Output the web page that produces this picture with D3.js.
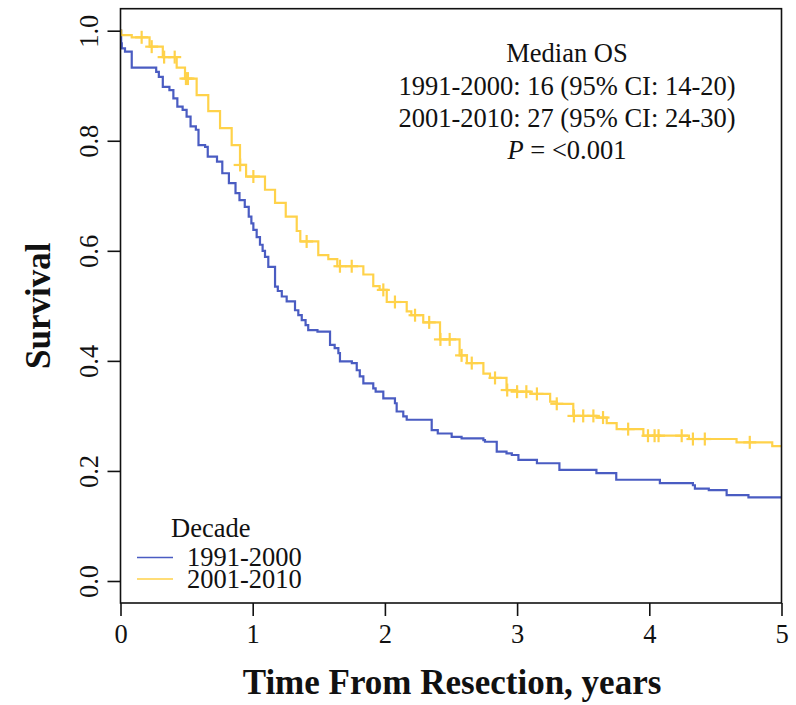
<!DOCTYPE html>
<html>
<head>
<meta charset="utf-8">
<script src="https://cdn.jsdelivr.net/npm/d3@7"></script>
<style>
  html, body { margin: 0; padding: 0; background: #fff; }
  svg { display: block; }
  text { font-family: "Liberation Serif", "Times New Roman", serif; fill: #111; }
</style>
</head>
<body>
<script>
// ---------- data ----------
const seriesNames = ["1991-2000", "2001-2010"];
const seriesColors = ["#4a5cc2", "#ffd24a"];

// 1991-2000: event times (years) and survival after each step
const blueTimes = [0.005, 0.01, 0.034, 0.085, 0.27, 0.29, 0.32, 0.37, 0.40, 0.43, 0.47, 0.50, 0.53, 0.57, 0.59, 0.64, 0.66, 0.73, 0.77, 0.82, 0.87, 0.90, 0.94, 0.97, 0.99, 1.005, 1.03, 1.055, 1.075, 1.093, 1.118, 1.169, 1.19, 1.22, 1.257, 1.32, 1.345, 1.371, 1.40, 1.42, 1.49, 1.585, 1.62, 1.648, 1.66, 1.75, 1.787, 1.81, 1.837, 1.912, 1.93, 1.988, 2.076, 2.089, 2.139, 2.165, 2.354, 2.40, 2.505, 2.58, 2.745, 2.757, 2.846, 2.92, 2.96, 3.01, 3.15, 3.32, 3.60, 3.75, 4.08, 4.33, 4.345, 4.45, 4.585, 4.75];
const blueSurv  = [0.977, 0.968, 0.962, 0.933, 0.925, 0.916, 0.898, 0.892, 0.877, 0.862, 0.856, 0.844, 0.826, 0.820, 0.792, 0.789, 0.771, 0.762, 0.741, 0.723, 0.705, 0.692, 0.680, 0.662, 0.650, 0.638, 0.625, 0.611, 0.600, 0.589, 0.571, 0.535, 0.527, 0.517, 0.508, 0.492, 0.483, 0.474, 0.465, 0.456, 0.453, 0.429, 0.423, 0.414, 0.399, 0.396, 0.383, 0.372, 0.359, 0.350, 0.344, 0.332, 0.323, 0.308, 0.299, 0.293, 0.274, 0.268, 0.262, 0.259, 0.256, 0.253, 0.235, 0.232, 0.229, 0.220, 0.214, 0.202, 0.196, 0.184, 0.178, 0.174, 0.168, 0.165, 0.156, 0.152];

// 2001-2010
const yellowTimes = [0.005, 0.085, 0.22, 0.32, 0.425, 0.488, 0.576, 0.664, 0.753, 0.841, 0.904, 0.95, 1.093, 1.169, 1.25, 1.333, 1.36, 1.496, 1.572, 1.64, 1.837, 1.912, 1.96, 2.014, 2.165, 2.20, 2.29, 2.417, 2.565, 2.62, 2.745, 2.795, 2.92, 3.0, 3.10, 3.25, 3.30, 3.425, 3.60, 3.678, 3.753, 3.955, 4.30, 4.66, 4.93];
const yellowSurv  = [0.992, 0.988, 0.971, 0.952, 0.933, 0.913, 0.883, 0.854, 0.823, 0.792, 0.756, 0.735, 0.711, 0.687, 0.662, 0.636, 0.617, 0.592, 0.585, 0.572, 0.557, 0.536, 0.529, 0.507, 0.490, 0.483, 0.470, 0.439, 0.410, 0.396, 0.377, 0.369, 0.347, 0.344, 0.340, 0.326, 0.322, 0.300, 0.297, 0.287, 0.276, 0.264, 0.258, 0.252, 0.245];
// censoring times (+ marks)
const yellowCensor = [0.16, 0.236, 0.33, 0.41, 0.495, 0.51, 0.905, 1.005, 1.408, 1.66, 1.749, 1.988, 2.076, 2.228, 2.335, 2.42, 2.49, 2.58, 2.657, 2.833, 2.925, 3.0, 3.07, 3.15, 3.3, 3.43, 3.5, 3.577, 3.65, 3.84, 3.99, 4.04, 4.07, 4.245, 4.33, 4.42, 4.76];

const xTicks = [0, 1, 2, 3, 4, 5];
const yTicks = [0.0, 0.2, 0.4, 0.6, 0.8, 1.0];
const annotationLines = ["Median OS", "1991-2000: 16 (95% CI: 14-20)", "2001-2010: 27 (95% CI: 24-30)"];

// ---------- layout ----------
const W = 796, H = 705;
const svg = d3.select("body").append("svg").attr("width", W).attr("height", H);

const x = d3.scaleLinear().domain([0, 5]).range([120.5, 781.5]);
const y = d3.scaleLinear().domain([0, 1]).range([581, 30.7]);
const boxTop = 8.7, boxBottom = 603;

function buildSteps(times, surv) {
  const pts = [[0, 1]];
  times.forEach((t, i) => pts.push([t, surv[i]]));
  pts.push([5, surv[surv.length - 1]]);
  return pts;
}
function survAt(times, surv, t) {
  let s = 1;
  for (let i = 0; i < times.length; i++) { if (times[i] <= t) s = surv[i]; else break; }
  return s;
}

const line = d3.line().x(d => x(d[0])).y(d => y(d[1])).curve(d3.curveStepAfter);

// curves
svg.append("path").datum(buildSteps(blueTimes, blueSurv))
  .attr("d", line).attr("fill", "none").attr("stroke", seriesColors[0]).attr("stroke-width", 2.2);
svg.append("path").datum(buildSteps(yellowTimes, yellowSurv))
  .attr("d", line).attr("fill", "none").attr("stroke", seriesColors[1]).attr("stroke-width", 2.2);

// censor marks
const cs = 6.5;
const cg = svg.append("g").attr("stroke", seriesColors[1]).attr("stroke-width", 2.2);
yellowCensor.forEach(t => {
  const cx = x(t), cy = y(survAt(yellowTimes, yellowSurv, t));
  cg.append("line").attr("x1", cx - cs).attr("x2", cx + cs).attr("y1", cy).attr("y2", cy);
  cg.append("line").attr("x1", cx).attr("x2", cx).attr("y1", cy - cs).attr("y2", cy + cs);
});

// box
svg.append("rect").attr("x", x(0)).attr("y", boxTop)
  .attr("width", x(5) - x(0)).attr("height", boxBottom - boxTop)
  .attr("fill", "none").attr("stroke", "#111").attr("stroke-width", 1.6);

// x axis
const xAxis = d3.axisBottom(x).tickValues(xTicks).tickFormat(d3.format("d")).tickSize(13).tickSizeOuter(0);
const gx = svg.append("g").attr("transform", `translate(0,${boxBottom})`).call(xAxis);
gx.select(".domain").remove();
gx.selectAll("line").attr("stroke", "#111").attr("stroke-width", 1.6);
gx.selectAll("text").attr("font-size", 26.5).attr("dy", null).attr("y", 40)
  .style("font-family", '"Liberation Serif", "Times New Roman", serif').attr("fill", "#111");

// y axis
const yAxis = d3.axisLeft(y).tickValues(yTicks).tickFormat(d3.format(".1f")).tickSize(13).tickSizeOuter(0);
const gy = svg.append("g").attr("transform", `translate(${x(0)},0)`).call(yAxis);
gy.select(".domain").remove();
gy.selectAll("line").attr("stroke", "#111").attr("stroke-width", 1.6);
gy.selectAll("text")
  .attr("x", null).attr("dy", null)
  .attr("text-anchor", "middle")
  .attr("transform", "translate(-23,0) rotate(-90)")
  .attr("font-size", 26.5)
  .style("font-family", '"Liberation Serif", "Times New Roman", serif').attr("fill", "#111");

// axis titles
svg.append("text").attr("x", (x(0) + x(5)) / 2 + 1).attr("y", 694)
  .attr("text-anchor", "middle").attr("font-size", 35).attr("font-weight", "bold")
  .text("Time From Resection, years");
svg.append("text").attr("transform", `translate(50,${(boxTop + boxBottom) / 2}) rotate(-90)`)
  .attr("text-anchor", "middle").attr("font-size", 35).attr("font-weight", "bold")
  .text("Survival");

// annotation
const annX = 567;
const annY = [62, 94.5, 127];
annotationLines.forEach((s, i) => {
  svg.append("text").attr("x", annX).attr("y", annY[i]).attr("text-anchor", "middle")
    .attr("font-size", 26.5).text(s);
});
const pt = svg.append("text").attr("x", annX).attr("y", 159).attr("text-anchor", "middle").attr("font-size", 26.5);
pt.append("tspan").attr("font-style", "italic").text("P");
pt.append("tspan").text(" = <0.001");

// legend
svg.append("text").attr("x", 171).attr("y", 537).attr("font-size", 26.5).text("Decade");
const legY = [557.5, 579];
seriesNames.forEach((n, i) => {
  svg.append("line").attr("x1", 137).attr("x2", 173).attr("y1", legY[i]).attr("y2", legY[i])
    .attr("stroke", seriesColors[i]).attr("stroke-width", 1.6);
  svg.append("text").attr("x", 187).attr("y", legY[i] + 8.5).attr("font-size", 26.5).text(n);
});
</script>
</body>
</html>
